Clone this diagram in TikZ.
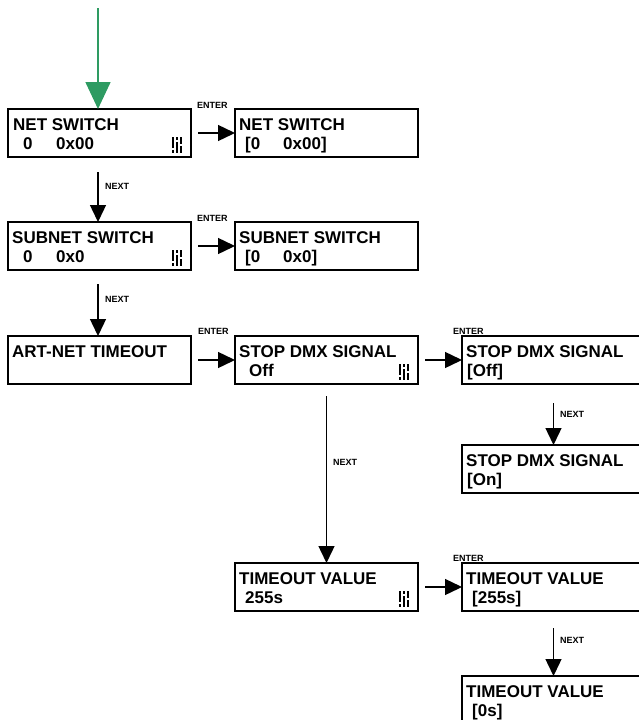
\documentclass[tikz,border=0pt]{standalone}
\usepackage{fontspec}
\setmainfont{Liberation Sans}
\usetikzlibrary{arrows.meta}
\definecolor{arrgreen}{RGB}{46,155,98}
\newcommand\lcdicon[1]{%
  \begin{scope}[shift={(#1.south east)}]
    \fill (-19.5,-20) rectangle (-17,-9);
    \fill (-19.5,-7) rectangle (-17,-4.5);
    \fill (-15.5,-20) rectangle (-13,-17.5);
    \fill (-15.5,-15.5) rectangle (-13,-4.5);
    \fill (-11.5,-20) rectangle (-9,-13);
    \fill (-11.5,-11) rectangle (-9,-4.5);
  \end{scope}}
\begin{document}
\begin{tikzpicture}[x=1pt,y=-1pt,
  lcdbox/.style={draw, line width=1.6pt, minimum width=183pt, minimum height=48pt, inner sep=0pt, outer sep=0pt, anchor=north west},
  lcdtext/.style={anchor=base west, inner sep=0pt, font=\fontsize{17}{19}\selectfont\bfseries},
  keylabel/.style={anchor=base west, inner sep=0pt, font=\fontsize{9}{10}\selectfont\bfseries},
  arr/.style={line width=1.4pt, -{Triangle[length=17pt,width=16pt]}},
  garr/.style={arrgreen, line width=1.6pt, -{Triangle[length=27pt,width=25pt]}}]
\clip (0,0) rectangle (639,720);
\useasboundingbox (0,0) rectangle (639,720);
% boxes
\node[lcdbox] (A) at (8,109) {};
\node[lcdbox] (B) at (235,109) {};
\node[lcdbox] (C) at (8,222) {};
\node[lcdbox] (D) at (235,222) {};
\node[lcdbox] (E) at (8,336) {};
\node[lcdbox] (F) at (235,336) {};
\node[lcdbox] (G) at (462,336) {};
\node[lcdbox] (H) at (462,445) {};
\node[lcdbox] (I) at (235,563) {};
\node[lcdbox] (J) at (462,563) {};
\node[lcdbox] (K) at (462,676) {};
% texts
\node[lcdtext] (A1) at ([shift={(5,21)}]A.north west) {NET SWITCH};
\node[lcdtext] (A2) at ([shift={(15,40)}]A.north west) {0};
\node[lcdtext] (A3) at ([shift={(48,40)}]A.north west) {0x00};
\node[lcdtext] (B1) at ([shift={(4,21)}]B.north west) {NET SWITCH};
\node[lcdtext] (B2) at ([shift={(10,40)}]B.north west) {[0};
\node[lcdtext] (B3) at ([shift={(48,40)}]B.north west) {0x00]};
\node[lcdtext] (C1) at ([shift={(4,21)}]C.north west) {SUBNET SWITCH};
\node[lcdtext] (C2) at ([shift={(15,40)}]C.north west) {0};
\node[lcdtext] (C3) at ([shift={(48,40)}]C.north west) {0x0};
\node[lcdtext] (D1) at ([shift={(4,21)}]D.north west) {SUBNET SWITCH};
\node[lcdtext] (D2) at ([shift={(10,40)}]D.north west) {[0};
\node[lcdtext] (D3) at ([shift={(48,40)}]D.north west) {0x0]};
\node[lcdtext] (E1) at ([shift={(4,21)}]E.north west) {ART-NET TIMEOUT};
\node[lcdtext] (F1) at ([shift={(4,21)}]F.north west) {STOP DMX SIGNAL};
\node[lcdtext] (F2) at ([shift={(14,40)}]F.north west) {Off};
\node[lcdtext] (G1) at ([shift={(4,21)}]G.north west) {STOP DMX SIGNAL};
\node[lcdtext] (G2) at ([shift={(5,40)}]G.north west) {[Off]};
\node[lcdtext] (H1) at ([shift={(4,21)}]H.north west) {STOP DMX SIGNAL};
\node[lcdtext] (H2) at ([shift={(5,40)}]H.north west) {[On]};
\node[lcdtext] (I1) at ([shift={(4,21)}]I.north west) {TIMEOUT VALUE};
\node[lcdtext] (I2) at ([shift={(10,40)}]I.north west) {255s};
\node[lcdtext] (J1) at ([shift={(4,21)}]J.north west) {TIMEOUT VALUE};
\node[lcdtext] (J2) at ([shift={(10,40)}]J.north west) {[255s]};
\node[lcdtext] (K1) at ([shift={(4,21)}]K.north west) {TIMEOUT VALUE};
\node[lcdtext] (K2) at ([shift={(10,40)}]K.north west) {[0s]};
% icons
\lcdicon{A}
\lcdicon{C}
\lcdicon{F}
\lcdicon{I}
% green entry arrow
\coordinate (start) at (98,8);
\draw[garr] (start) -- (start |- A.north);
% enter arrows
\draw[arr, shorten <=7pt] (A.east) -- (B.west);
\draw[arr, shorten <=7pt] (C.east) -- (D.west);
\draw[arr, shorten <=7pt] (E.east) -- (F.west);
\draw[arr, shorten <=7pt] (F.east) -- (G.west);
\draw[arr, shorten <=7pt] (I.east) -- (J.west);
% next arrows
\draw[arr, shorten <=15pt] (A.south -| start) -- (C.north -| start);
\draw[arr, shorten <=14pt] (C.south -| start) -- (E.north -| start);
\draw[arr, shorten <=12pt] (F.south) -- (I.north);
\draw[arr, shorten <=19pt] (G.south) -- (H.north);
\draw[arr, shorten <=17pt] (J.south) -- (K.north);
% labels
\node[keylabel] (L1) at (197,108) {ENTER};
\node[keylabel] (L2) at (197,221) {ENTER};
\node[keylabel] (L3) at (198,334) {ENTER};
\node[keylabel] (L4) at (453,334) {ENTER};
\node[keylabel] (L5) at (453,561) {ENTER};
\node[keylabel] (N1) at (105,189) {NEXT};
\node[keylabel] (N2) at (105,302) {NEXT};
\node[keylabel] (N3) at (333,465) {NEXT};
\node[keylabel] (N4) at (560,417) {NEXT};
\node[keylabel] (N5) at (560,643) {NEXT};
\end{tikzpicture}
\end{document}
